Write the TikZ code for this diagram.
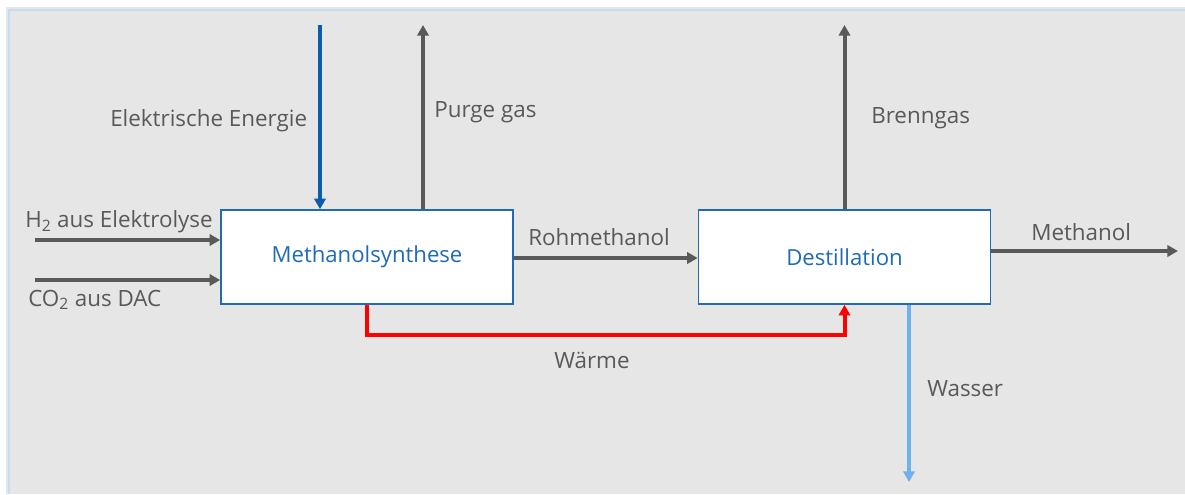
\documentclass[tikz,border=0pt]{standalone}
\usepackage{fontspec}
\setmainfont{Open Sans}
\usetikzlibrary{arrows.meta}
\definecolor{txtgray}{HTML}{595959}
\definecolor{arrgray}{HTML}{595959}
\definecolor{bgray}{HTML}{E6E6E6}
\definecolor{frameblue}{HTML}{C5DDF2}
\definecolor{boxblue}{HTML}{1F6BB8}
\definecolor{eblue}{HTML}{0B5CAD}
\definecolor{wblue}{HTML}{6FB2EC}
\tikzset{
  flow/.style={line width=3pt, -{Triangle[length=8pt,width=8.5pt]}},
  procbox/.style={draw=boxblue, line width=1.2pt, fill=white, rectangle,
    minimum width=219pt, minimum height=70.5pt, inner sep=0pt,
    text=boxblue, font=\fontsize{16.6}{19}\selectfont},
  lbl/.style={text=txtgray, font=\fontsize{16.8}{19}\selectfont, inner sep=0pt}
}
\begin{document}
\begin{tikzpicture}[x=0.75pt,y=-0.75pt]
\useasboundingbox (0,0) rectangle (1185,494);
\fill[bgray] (6,7) rectangle (1185,494);
\draw[frameblue, line width=1.8pt] (9,494) -- (9,10) -- (1185,10);

\node[procbox] (syn) at (367,257) {Methanolsynthese};
\node[procbox] (dest) at (844.5,257) {Destillation};

\coordinate (eTop) at (320,25);
\coordinate (pTop) at (423,25);
\coordinate (bTop) at (844.5,25);
\coordinate (hStart) at (35,240);
\coordinate (cStart) at (35,280);
\coordinate (mEnd) at (1178,251);
\coordinate (wEnd) at (909,482);
\coordinate (heatY) at (0,335);

\draw[flow, eblue] (eTop) -- (eTop |- syn.north);
\draw[flow, arrgray] (pTop |- syn.north) -- (pTop);
\draw[flow, arrgray] (dest.north) -- (bTop);
\draw[flow, arrgray] (hStart) -- (hStart -| syn.west);
\draw[flow, arrgray] (cStart) -- (cStart -| syn.west);
\draw[flow, arrgray] (syn.east |- 0,258) -- (dest.west |- 0,258);
\draw[flow, arrgray] (dest.east |- mEnd) -- (mEnd);
\draw[flow, wblue] (wEnd |- dest.south) -- (wEnd);
\draw[flow, red, line join=miter] (syn.south) -- (syn.south |- heatY) -- (dest.south |- heatY) -- (dest.south);

\node[lbl, anchor=west] (lE) at (110,121) {Elektrische Energie};
\node[lbl, anchor=west] (lP) at (434,112) {Purge gas};
\node[lbl, anchor=west] (lB) at (871,118) {Brenngas};
\node[lbl, anchor=west] (lH) at (25,222) {H\textsubscript{2} aus Elektrolyse};
\node[lbl, anchor=west] (lC) at (28,300) {CO\textsubscript{2} aus DAC};
\node[lbl, anchor=west] (lR) at (528,237) {Rohmethanol};
\node[lbl, anchor=west] (lM) at (1031,232) {Methanol};
\node[lbl] (lW) at (592,360) {Wärme};
\node[lbl, anchor=west] (lWa) at (927,389) {Wasser};
\end{tikzpicture}
\end{document}
